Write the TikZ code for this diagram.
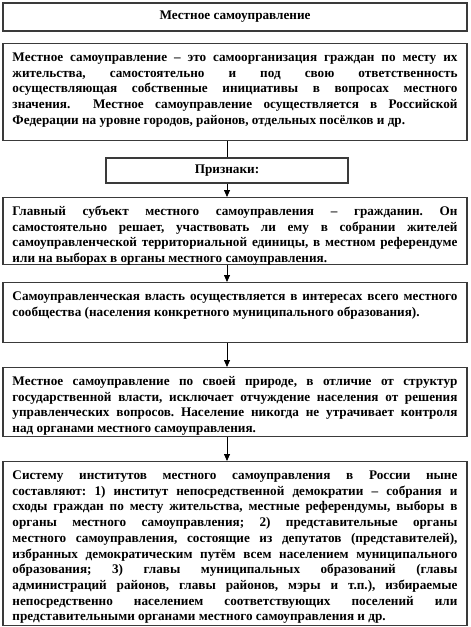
\documentclass[tikz,border=0pt]{standalone}
\usepackage{fontspec}
\setmainfont{Liberation Serif}
\usetikzlibrary{arrows.meta,positioning,calc}
\definecolor{edge}{HTML}{3A3A3A}
\hyphenpenalty=10000
\exhyphenpenalty=10000
\frenchspacing
\tikzset{
  box/.style={draw=edge, line width=1.1pt, fill=white, align=center, font=\bfseries\fontsize{13.2}{15.7}\selectfont},
  textbox/.style={box, anchor=north, text width=445pt, align=justify, inner xsep=9.5pt, inner ysep=6pt, text height=12pt},
  arrow/.style={-{Triangle[length=7pt,width=6pt]}, line width=0.8pt, draw=black}
}
\begin{document}
\begin{tikzpicture}
  \useasboundingbox (0,0) rectangle (471pt,-627pt);
  \node[box, minimum width=464pt, minimum height=28pt] (title) at (235pt,-17pt) {Местное самоуправление};
  \node[textbox, text depth=73pt] (def) at (235pt,-43pt) {Местное самоуправление – это самоорганизация граждан по месту их\linebreak
    жительства, самостоятельно и под свою ответственность\linebreak
    осуществляющая собственные инициативы в вопросах местного\linebreak
    значения. \ Местное самоуправление осуществляется в Российской\linebreak
    Федерации на уровне городов, районов, отдельных посёлков и др.};
  \node[box, minimum width=242pt, minimum height=25pt] (signs) at (227pt,-170.5pt) {Признаки:};
  \node[textbox, text depth=43pt] (subject) at (235pt,-197pt) {Главный субъект местного самоуправления – гражданин. Он\linebreak
    самостоятельно решает, участвовать ли ему в собрании жителей\linebreak
    самоуправленческой территориальной единицы, в местном референдуме\linebreak
    или на выборах в органы местного самоуправления.};
  \node[textbox, text depth=36pt] (power) at (235pt,-282pt) {Самоуправленческая власть осуществляется в интересах всего местного\linebreak
    сообщества (населения конкретного муниципального образования).};
  \node[textbox, text depth=45pt] (nature) at (235pt,-367pt) {Местное самоуправление по своей природе, в отличие от структур\linebreak
    государственной власти, исключает отчуждение населения от решения\linebreak
    управленческих вопросов. Население никогда не утрачивает контроля\linebreak
    над органами местного самоуправления.};
  \node[textbox, text depth=140pt] (system) at (235pt,-461pt) {Систему институтов местного самоуправления в России ныне\linebreak
    составляют: 1) институт непосредственной демократии – собрания и\linebreak
    сходы граждан по месту жительства, местные референдумы, выборы в\linebreak
    органы местного самоуправления; 2) представительные органы\linebreak
    местного самоуправления, состоящие из депутатов (представителей),\linebreak
    избранных демократическим путём всем населением муниципального\linebreak
    образования; 3) главы муниципальных образований (главы\linebreak
    администраций районов, главы районов, мэры и т.п.), избираемые\linebreak
    непосредственно населением соответствующих поселений или\linebreak
    представительными органами местного самоуправления и др.};
  \draw[line width=0.8pt] (def.south -| signs.north) -- (signs.north);
  \draw[arrow] (signs.south) -- (subject.north -| signs.south);
  \draw[arrow] (subject.south -| signs.south) -- (power.north -| signs.south);
  \draw[arrow] (power.south -| signs.south) -- (nature.north -| signs.south);
  \draw[arrow] (nature.south -| signs.south) -- (system.north -| signs.south);
\end{tikzpicture}
\end{document}
